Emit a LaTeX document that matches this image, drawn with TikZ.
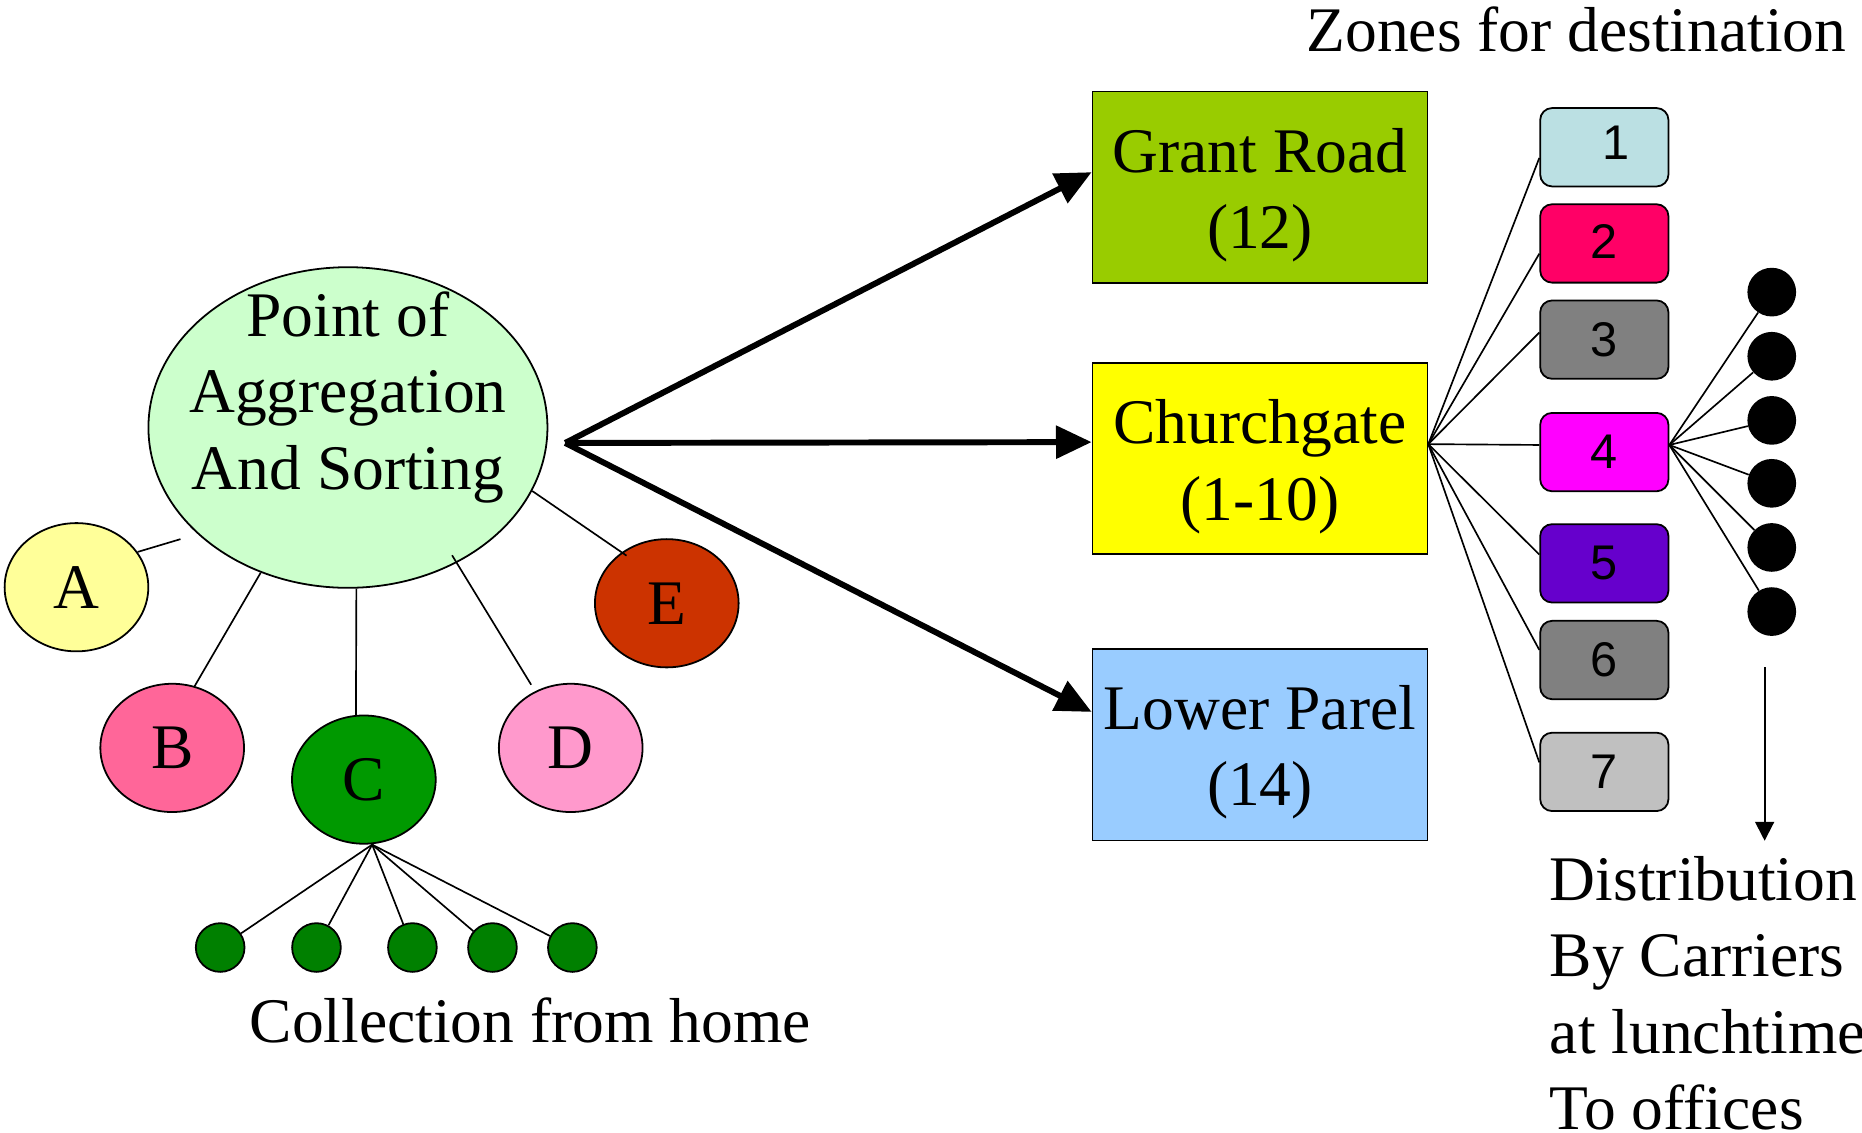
\documentclass[tikz,border=0pt]{standalone}
\usepackage{fontspec}
\setmainfont{Liberation Serif}
\newfontfamily\numfont{Liberation Sans}
\usetikzlibrary{arrows.meta,shapes.geometric}
\definecolor{aggc}{HTML}{CCFFCC}
\definecolor{ac}{HTML}{FFFF99}
\definecolor{bc}{HTML}{FF6699}
\definecolor{cc}{HTML}{009900}
\definecolor{dc}{HTML}{FF99CC}
\definecolor{ec}{HTML}{CC3300}
\definecolor{homec}{HTML}{008000}
\definecolor{grantc}{HTML}{99CC00}
\definecolor{churchc}{HTML}{FFFF00}
\definecolor{lowerc}{HTML}{99CCFF}
\definecolor{z1}{HTML}{BBE0E3}
\definecolor{z2}{HTML}{FF0066}
\definecolor{z3}{HTML}{808080}
\definecolor{z4}{HTML}{FF00FF}
\definecolor{z5}{HTML}{6600CC}
\definecolor{z6}{HTML}{808080}
\definecolor{z7}{HTML}{C0C0C0}
\begin{document}
\begin{tikzpicture}[x=1pt,y=-1pt,
  bigtext/.style={font=\fontsize{53.5}{64.5}\selectfont, inner sep=0pt},
  letter/.style={ellipse, draw=black, line width=1.5pt, minimum width=121pt,
    minimum height=108pt, inner sep=0pt, font=\fontsize{53.5}{64.5}\selectfont},
  hub/.style={rectangle, draw=black, line width=1.5pt, minimum width=282pt,
    minimum height=161pt, inner sep=0pt},
  zone/.style={rectangle, rounded corners=10pt, draw=black, line width=1.5pt,
    minimum width=108pt, minimum height=66pt, inner sep=0pt,
    font=\numfont\fontsize{41}{41}\selectfont},
  dot/.style={circle, fill=black, minimum size=41pt, inner sep=0pt},
  home/.style={circle, draw=black, line width=1.5pt, fill=homec,
    minimum size=41pt, inner sep=0pt},
  thin/.style={line width=1.4pt},
  bigarrow/.style={line width=5pt, -{Triangle[length=30pt,width=27pt]}},
  smallarrow/.style={line width=1.6pt, -{Triangle[length=16pt,width=16pt]}}
]
\useasboundingbox (0,0) rectangle (1568,954);

% aggregation ellipse and its text
\node[ellipse, draw=black, line width=1.5pt, fill=aggc, minimum width=336pt,
  minimum height=270pt, inner sep=0pt] (agg) at (293,360) {};
\node[bigtext, align=center, anchor=base] (aggtxt) at (293,412)
  {Point of\\Aggregation\\And Sorting};

% collection points
\node[letter, fill=ac] (A) at (64.4,494.5) {A};
\node[letter, fill=bc] (B) at (145,629.8) {B};
\node[letter, fill=cc] (C) at (306.4,656.5) {C};
\node[letter, fill=dc] (D) at (480.6,629.8) {D};
\node[letter, fill=ec] (E) at (561.5,508) {E};

\coordinate (aOut) at (152,454);
\coordinate (dIn) at (447.3,576.6);
\coordinate (dAgg) at (380.7,467.6);
\coordinate (eIn) at (527.6,467.9);

\draw[thin] (A.30) -- (aOut);
\draw[thin] (B.70) -- (agg.239);
\draw[thin] (C.97) -- (agg.273);
\draw[thin] (dIn) -- (dAgg);
\draw[thin] (eIn) -- (agg.-19);

% homes
\node[home] (h1) at (185.4,797.9) {};
\node[home] (h2) at (266.5,797.9) {};
\node[home] (h3) at (347.3,797.9) {};
\node[home] (h4) at (414.7,797.9) {};
\node[home] (h5) at (482,797.9) {};
\coordinate (cfan) at ([xshift=7pt]C.south);
\foreach \h in {h1,h2,h3,h4,h5} \draw[thin] (cfan) -- (\h);

\node[bigtext, anchor=base] (coll) at (446.5,878) {Collection from home};

% hubs
\node[hub, fill=grantc] (grant) at (1061,157.5) {};
\node[hub, fill=churchc] (church) at (1061,386) {};
\node[hub, fill=lowerc] (lower) at (1061,627.3) {};
\node[bigtext, align=center, anchor=base] (granttxt) at (1061,209.5) {Grant Road\\(12)};
\node[bigtext, align=center, anchor=base] (churchtxt) at (1061,438) {Churchgate\\(1-10)};
\node[bigtext, align=center, anchor=base] (lowertxt) at (1061,678.5) {Lower Parel\\(14)};

\coordinate (src) at (476,373);
\draw[bigarrow] (src) -- ([yshift=12.5pt]grant.west);
\draw[bigarrow] (src) -- ([yshift=13.7pt]church.west);
\draw[bigarrow] (src) -- ([yshift=27.8pt]lower.west);

% zones
\node[bigtext, anchor=base west] (zones) at (1100,43) {Zones for destination};
\node[zone, fill=z1] (b1) at (1351,124) {\hspace*{20pt}\raisebox{7pt}{1}};
\node[zone, fill=z2] (b2) at (1351,205) {\raisebox{4pt}{2}};
\node[zone, fill=z3] (b3) at (1351,286) {3};
\node[zone, fill=z4] (b4) at (1351,380.7) {4};
\node[zone, fill=z5] (b5) at (1351,474.4) {5};
\node[zone, fill=z6] (b6) at (1351,555.8) {6};
\node[zone, fill=z7] (b7) at (1351,650) {7};

\coordinate (cfan2) at ([yshift=12pt]church.east);
\draw[thin] (cfan2) -- ([yshift=-9pt]b1.west);
\draw[thin] (cfan2) -- ([yshift=-8.6pt]b2.west);
\draw[thin] (cfan2) -- ([yshift=6pt]b3.west);
\draw[thin] (cfan2) -- ([yshift=6pt]b4.west);
\draw[thin] (cfan2) -- ([yshift=7.4pt]b5.west);
\draw[thin] (cfan2) -- ([yshift=8.5pt]b6.west);
\draw[thin] (cfan2) -- ([yshift=8pt]b7.west);

% carriers
\node[dot] (k1) at (1492,246) {};
\node[dot] (k2) at (1492,300) {};
\node[dot] (k3) at (1492,354) {};
\node[dot] (k4) at (1492,407) {};
\node[dot] (k5) at (1492,461) {};
\node[dot] (k6) at (1492,515) {};
\coordinate (zfan) at ([yshift=6pt]b4.east);
\foreach \k in {k1,k2,k3,k4,k5,k6} \draw[thin] (zfan) -- (\k);

\coordinate (arrS) at (1486,562);
\coordinate (arrE) at (1486,708);
\draw[smallarrow] (arrS) -- (arrE);

\node[bigtext, align=left, anchor=base west] (distr) at (1305,951.5)
  {Distribution\\By Carriers\\at lunchtime\\To offices};
\end{tikzpicture}
\end{document}
